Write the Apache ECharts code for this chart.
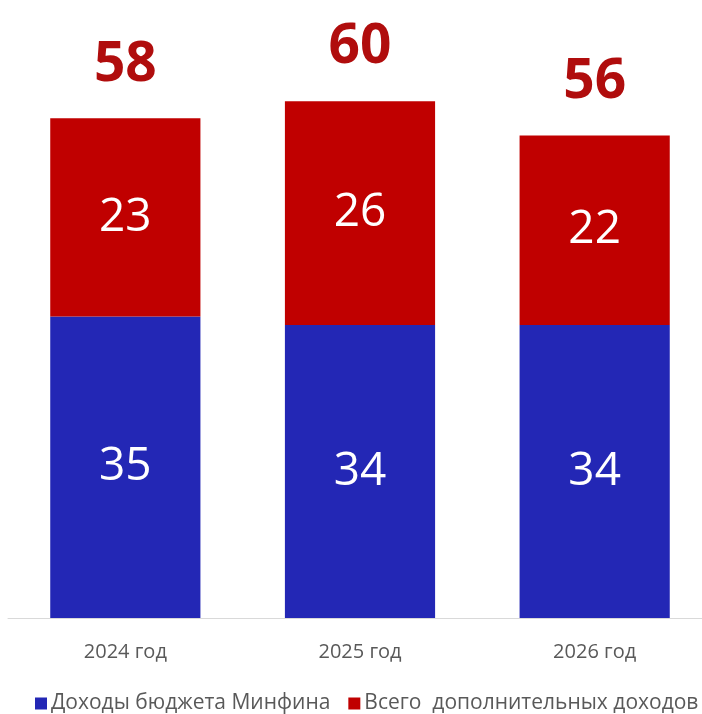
<!DOCTYPE html>
<html>
<head>
<meta charset="utf-8">
<script src="https://cdn.jsdelivr.net/npm/echarts@6/dist/echarts.min.js"></script>
<style>
html,body{margin:0;padding:0;background:#fff;overflow:hidden;}
#main{width:712px;height:714px;}
</style>
</head>
<body>
<div id="main"></div>
<script>
const categories = ['2024 год', '2025 год', '2026 год'];
const budgetIncome = [35, 34, 34];
const extraIncome = [23, 26, 22];
const totals = [58, 60, 56];
const seriesNames = ['Доходы бюджета Минфина', 'Всего  дополнительных доходов'];

const chart = echarts.init(document.getElementById('main'));
const font = '"Open Sans", sans-serif';
chart.setOption({
  backgroundColor: '#ffffff',
  animation: false,
  grid: { left: 8, right: 0, top: 15, bottom: 96 },
  legend: {
    data: seriesNames,
    left: 30,
    bottom: -5,
    icon: 'rect',
    itemWidth: 12,
    itemHeight: 12,
    itemGap: 18,
    textStyle: { fontFamily: font, fontSize: 21, color: '#595959', padding: [0, 0, 0, -1] }
  },
  xAxis: {
    type: 'category',
    data: categories,
    axisLine: { lineStyle: { color: '#d9d9d9', width: 1 } },
    axisTick: { show: false },
    axisLabel: { fontFamily: font, fontSize: 20, color: '#595959', margin: 24 }
  },
  yAxis: {
    type: 'value',
    min: 0,
    max: 70,
    show: false,
    splitLine: { show: false }
  },
  series: [
    {
      name: seriesNames[0],
      type: 'bar',
      stack: 'total',
      barWidth: '64%',
      data: budgetIncome,
      itemStyle: { color: '#2327b5' },
      label: { show: true, position: 'inside', color: '#ffffff', fontFamily: font, fontSize: 46 }
    },
    {
      name: seriesNames[1],
      type: 'bar',
      stack: 'total',
      data: extraIncome,
      itemStyle: { color: '#c00000' },
      label: { show: true, position: 'inside', color: '#ffffff', fontFamily: font, fontSize: 46 }
    },
    {
      name: 'total',
      type: 'bar',
      stack: 'total',
      data: totals.map(() => 0),
      itemStyle: { color: 'transparent' },
      label: {
        show: true,
        position: 'top',
        distance: 26,
        formatter: p => totals[p.dataIndex],
        color: '#b00d0d',
        fontFamily: font,
        fontWeight: 'bold',
        fontSize: 55
      }
    }
  ]
});
</script>
</body>
</html>
